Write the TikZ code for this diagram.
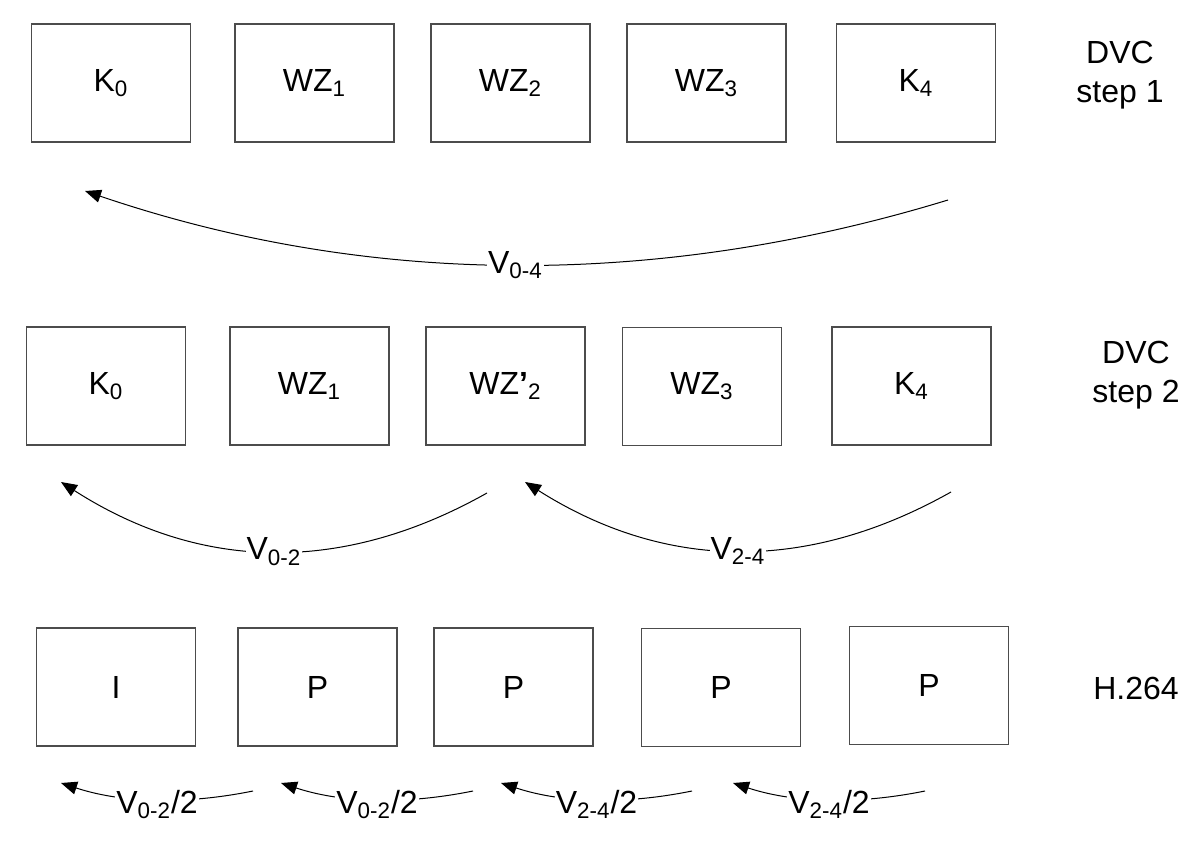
\documentclass[tikz,border=0pt]{standalone}
\usepackage{fontspec}
\setmainfont{Liberation Sans}
\usetikzlibrary{arrows.meta}
\begin{document}
\begin{tikzpicture}[x=0.5pt,y=-0.5pt,
  frame/.style={draw=black!70,line width=0.7pt,minimum width=79.5pt,minimum height=59pt,inner sep=0pt,font=\fontsize{16}{19.5}\selectfont},
  rowlab/.style={align=center,font=\fontsize{16}{19.5}\selectfont,inner sep=0pt},
  vec/.style={draw=black,line width=0.5pt,-{Triangle[length=8pt,width=6.5pt]}},
  vlab/.style={fill=white,inner sep=0.5pt,font=\fontsize{16}{19.5}\selectfont}]
\useasboundingbox (0,0) rectangle (1200,845);
% row 1
\node[frame] (a0) at (111,83) {K\textsubscript{0}};
\node[frame] (a1) at (314.5,83) {WZ\textsubscript{1}};
\node[frame] (a2) at (510.5,83) {WZ\textsubscript{2}};
\node[frame] (a3) at (706.5,83) {WZ\textsubscript{3}};
\node[frame] (a4) at (916,83) {K\textsubscript{4}};
\node[rowlab] (l1) at (1120,75) {DVC\\step 1};
% row 2
\node[frame] (b0) at (106,386) {K\textsubscript{0}};
\node[frame] (b1) at (309.5,386) {WZ\textsubscript{1}};
\node[frame] (b2) at (505.5,386) {WZ{\bfseries ’}\textsubscript{2}};
\node[frame] (b3) at (702,386.5) {WZ\textsubscript{3}};
\node[frame] (b4) at (911.5,386) {K\textsubscript{4}};
\node[rowlab] (l2) at (1136,375) {DVC\\step 2};
% row 3
\node[frame] (c0) at (116,687) {I};
\node[frame] (c1) at (317.5,687) {P};
\node[frame] (c2) at (513.5,687) {P};
\node[frame] (c3) at (721,687.5) {P};
\node[frame] (c4) at (929,685.5) {P};
\node[rowlab] (l3) at (1136,688) {H.264};
% arrow end points
\coordinate (s1) at (948,200);  \coordinate (t1) at (85,191);
\coordinate (s2) at (487,493);  \coordinate (t2) at (61,482);
\coordinate (s3) at (951,492);  \coordinate (t3) at (525,482);
\coordinate (s4) at (253,791);  \coordinate (t4) at (61,783);
\coordinate (s5) at (473,791);  \coordinate (t5) at (281,783);
\coordinate (s6) at (692,791);  \coordinate (t6) at (501,783);
\coordinate (s7) at (925,791);  \coordinate (t7) at (733,783);
% arrows
\draw[vec] (s1) .. controls (660,288) and (370,288) .. node[vlab] (v1) {V\textsubscript{0-4}} (t1);
\draw[vec] (s2) .. controls (345,573) and (203,573) .. node[vlab] (v2) {V\textsubscript{0-2}} (t2);
\draw[vec] (s3) .. controls (809,572) and (667,572) .. node[vlab] (v3) {V\textsubscript{2-4}} (t3);
\draw[vec] (s4) .. controls (189,804) and (125,804) .. node[vlab,yshift=-2.5pt] (v4) {V\textsubscript{0-2}/2} (t4);
\draw[vec] (s5) .. controls (409,804) and (345,804) .. node[vlab,yshift=-2.5pt] (v5) {V\textsubscript{0-2}/2} (t5);
\draw[vec] (s6) .. controls (628,804) and (565,804) .. node[vlab,yshift=-2.5pt] (v6) {V\textsubscript{2-4}/2} (t6);
\draw[vec] (s7) .. controls (861,804) and (797,804) .. node[vlab,yshift=-2.5pt] (v7) {V\textsubscript{2-4}/2} (t7);
\end{tikzpicture}
\end{document}
